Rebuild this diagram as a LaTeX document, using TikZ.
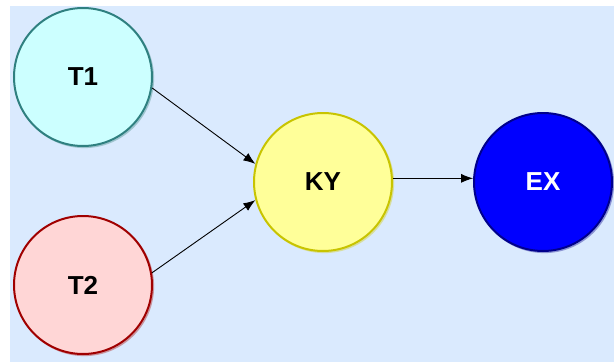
\documentclass[tikz,border=0pt]{standalone}
\usepackage{fontspec}
\setmainfont{Liberation Sans}
\usetikzlibrary{arrows.meta}
\usetikzlibrary{positioning}
\usetikzlibrary{shadows}
\definecolor{bgblue}{HTML}{DAEAFE}
\definecolor{tcyan}{HTML}{CCFFFF}
\definecolor{tteal}{HTML}{2F8080}
\definecolor{tpink}{HTML}{FFD6D6}
\definecolor{tred}{HTML}{A00000}
\definecolor{kyell}{HTML}{FFFF99}
\definecolor{kolive}{HTML}{C8C400}
\definecolor{exblue}{HTML}{0000FF}
\definecolor{exnavy}{HTML}{00008C}

\tikzset{
  ball/.style={circle, minimum size=138pt, inner sep=0pt, line width=2pt,
    font=\fontsize{26}{30}\selectfont\bfseries,
    drop shadow={shadow xshift=1.3pt, shadow yshift=-1.3pt, fill=none, draw=#1!75, line width=1.6pt}},
  link/.style={-{Latex[length=12pt,width=9pt]}, line width=0.9pt}
}

\begin{document}
\begin{tikzpicture}[x=1pt, y=-1pt]
    \useasboundingbox (0, 0) rectangle (614, 362);
    \fill [bgblue] (10, 6) rectangle (614, 362);

    \node [ball=tteal, draw=tteal, fill=tcyan] (T1) at (83, 77) {T1};
    \node [ball=tred, draw=tred, fill=tpink] (T2) at (83, 285) {T2};
    \node [ball=kolive, draw=kolive, fill=kyell] (KY) at (323, 182) {KY};
    \node [ball=exnavy, draw=exnavy, fill=exblue, text=white] (EX) at (543, 182) {EX};

    \draw [link] (T1.-9) -- (KY.165);
    \draw [link] (T2.10) -- (KY.195);
    \draw [link] (KY.3) -- (EX.177);
  \end{tikzpicture}
\end{document}
